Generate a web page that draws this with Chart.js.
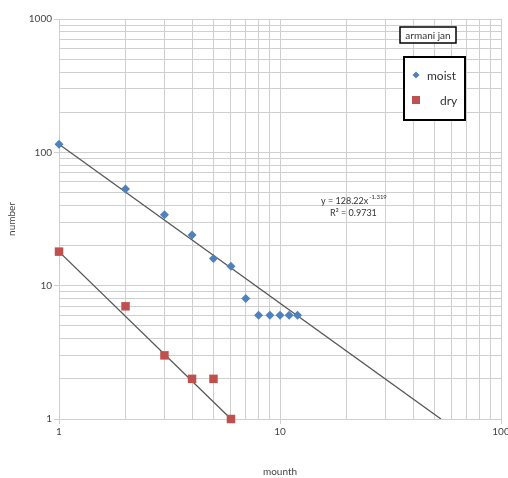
<!DOCTYPE html>
<html lang="en">
<head>
  <meta charset="UTF-8">
  <title>armani jan</title>
  <script src="https://cdn.jsdelivr.net/npm/chart.js"></script>
  <style>
    body { margin: 0; background: #fff; }
    #wrap { width: 508px; height: 478px; }
  </style>
</head>
<body>
  <div id="wrap"><canvas id="grafico"></canvas></div>

  <script>
    // data
    const moistX = [1, 2, 3, 4, 5, 6, 7, 8, 9, 10, 11, 12];
    const moistY = [115, 53, 34, 24, 16, 14, 8, 6, 6, 6, 6, 6];
    const dryX = [1, 2, 3, 4, 5, 6];
    const dryY = [18, 7, 3, 2, 2, 1];

    // trend lines (end points as drawn)
    const moistTrendX = [1, 53.5];
    const moistTrendY = [115, 1];
    const dryTrendX = [1, 6];
    const dryTrendY = [18, 1];

    const xTicks = [1, 2, 3, 4, 5, 6, 7, 8, 9, 10, 20, 30, 40, 50, 60, 70, 80, 90, 100];
    const yTicks = [1, 2, 3, 4, 5, 6, 7, 8, 9, 10, 20, 30, 40, 50, 60, 70, 80, 90,
                    100, 200, 300, 400, 500, 600, 700, 800, 900, 1000];
    const majorTicks = [1, 10, 100, 1000];

    const legendTitle = 'armani jan';
    const equation = 'y = 128.22x';
    const equationExp = '-1.319';
    const rSquared = 'R² = 0.9731';

    const FONT = 'Lato, "Open Sans", sans-serif';
    const pts = (xs, ys) => xs.map((x, i) => ({ x: x, y: ys[i] }));

    const extras = {
      id: 'extras',
      afterDraw(chart) {
        const ctx = chart.ctx;
        const a = chart.chartArea;
        ctx.save();

        // title box
        ctx.fillStyle = '#fff';
        ctx.fillRect(a.right - 101, a.top + 8, 56, 16);
        ctx.strokeStyle = '#000';
        ctx.lineWidth = 1.5;
        ctx.strokeRect(a.right - 101, a.top + 8, 56, 16);
        ctx.fillStyle = '#333';
        ctx.font = '10px ' + FONT;
        ctx.textAlign = 'center';
        ctx.textBaseline = 'middle';
        ctx.fillText(legendTitle, a.right - 73, a.top + 16.5);

        // legend box
        ctx.fillStyle = '#fff';
        ctx.fillRect(a.right - 97, a.top + 38, 61, 63);
        ctx.lineWidth = 2;
        ctx.strokeRect(a.right - 97, a.top + 38, 61, 63);

        ctx.fillStyle = '#4f81bd';
        ctx.beginPath();
        ctx.moveTo(a.right - 85, a.top + 52.5);
        ctx.lineTo(a.right - 81.5, a.top + 56);
        ctx.lineTo(a.right - 85, a.top + 59.5);
        ctx.lineTo(a.right - 88.5, a.top + 56);
        ctx.closePath();
        ctx.fill();
        ctx.fillStyle = '#c0504d';
        ctx.fillRect(a.right - 89, a.top + 77, 8, 8);

        ctx.fillStyle = '#333';
        ctx.font = '12px ' + FONT;
        ctx.textAlign = 'left';
        ctx.fillText('moist', a.right - 74, a.top + 57);
        ctx.fillText('dry', a.right - 61, a.top + 82);

        // trend equation
        const xs = chart.scales.x, ys = chart.scales.y;
        const cx = xs.getPixelForValue(21.5);
        const cy = ys.getPixelForValue(43);
        ctx.font = '9px ' + FONT;
        ctx.fillStyle = '#333';
        const w1 = ctx.measureText(equation).width;
        ctx.font = '6px ' + FONT;
        const w2 = ctx.measureText(equationExp).width;
        const left = cx - (w1 + w2) / 2;
        ctx.font = '9px ' + FONT;
        ctx.fillText(equation, left, cy);
        ctx.font = '6px ' + FONT;
        ctx.fillText(equationExp, left + w1 + 1, cy - 4);
        ctx.font = '9px ' + FONT;
        ctx.textAlign = 'center';
        ctx.fillText(rSquared, cx, cy + 12);

        ctx.restore();
      }
    };

    const gridColor = '#cfcfcf';
    const isMajor = v => majorTicks.includes(v);

    new Chart(document.getElementById('grafico'), {
      type: 'scatter',
      data: {
        datasets: [
          {
            label: 'moist',
            data: pts(moistX, moistY),
            pointStyle: 'rectRot',
            pointRadius: 4.5,
            pointHoverRadius: 4.5,
            backgroundColor: '#4f81bd',
            borderColor: '#4f81bd',
            borderWidth: 0,
            clip: false,
            order: 1
          },
          {
            label: 'dry',
            data: pts(dryX, dryY),
            pointStyle: 'rect',
            pointRadius: 6,
            pointHoverRadius: 6,
            backgroundColor: '#c0504d',
            borderColor: '#c0504d',
            borderWidth: 0,
            clip: false,
            order: 1
          },
          {
            label: 'moist trend',
            type: 'line',
            data: pts(moistTrendX, moistTrendY),
            showLine: true,
            pointRadius: 0,
            borderColor: '#555',
            borderWidth: 1.3,
            fill: false,
            order: 2
          },
          {
            label: 'dry trend',
            type: 'line',
            data: pts(dryTrendX, dryTrendY),
            showLine: true,
            pointRadius: 0,
            borderColor: '#555',
            borderWidth: 1.3,
            fill: false,
            order: 2
          }
        ]
      },
      options: {
        responsive: true,
        maintainAspectRatio: false,
        animation: false,
        layout: { padding: { top: 19, right: 7, left: 0, bottom: 0 } },
        plugins: {
          legend: { display: false },
          tooltip: { enabled: false }
        },
        scales: {
          x: {
            type: 'logarithmic',
            min: 1,
            max: 100,
            afterBuildTicks: s => { s.ticks = xTicks.map(v => ({ value: v })); },
            afterFit: s => { s.height = 59; s.paddingRight = 0; s.paddingLeft = 0; },
            grid: {
              color: gridColor,
              tickLength: 5,
              tickColor: c => isMajor(c.tick && c.tick.value) ? gridColor : 'rgba(0,0,0,0)'
            },
            border: { color: gridColor },
            ticks: {
              autoSkip: false,
              maxRotation: 0,
              padding: 2,
              color: '#444',
              font: { family: FONT, size: 10 },
              callback: v => isMajor(v) ? String(v) : ''
            },
            title: {
              display: true,
              text: 'mounth',
              color: '#444',
              font: { family: FONT, size: 10 },
              padding: { top: 0, bottom: 0 }
            }
          },
          y: {
            type: 'logarithmic',
            min: 1,
            max: 1000,
            afterBuildTicks: s => { s.ticks = yTicks.map(v => ({ value: v })); },
            afterFit: s => { s.width = 59; },
            grid: {
              color: gridColor,
              tickLength: 5,
              tickColor: c => isMajor(c.tick && c.tick.value) ? gridColor : 'rgba(0,0,0,0)'
            },
            border: { color: gridColor },
            ticks: {
              autoSkip: false,
              padding: 2,
              color: '#444',
              font: { family: FONT, size: 10 },
              callback: v => isMajor(v) ? String(v) : ''
            },
            title: {
              display: true,
              text: 'number',
              color: '#444',
              font: { family: FONT, size: 10 },
              padding: { top: 6, bottom: 0 }
            }
          }
        }
      },
      plugins: [extras]
    });
  </script>
</body>
</html>
